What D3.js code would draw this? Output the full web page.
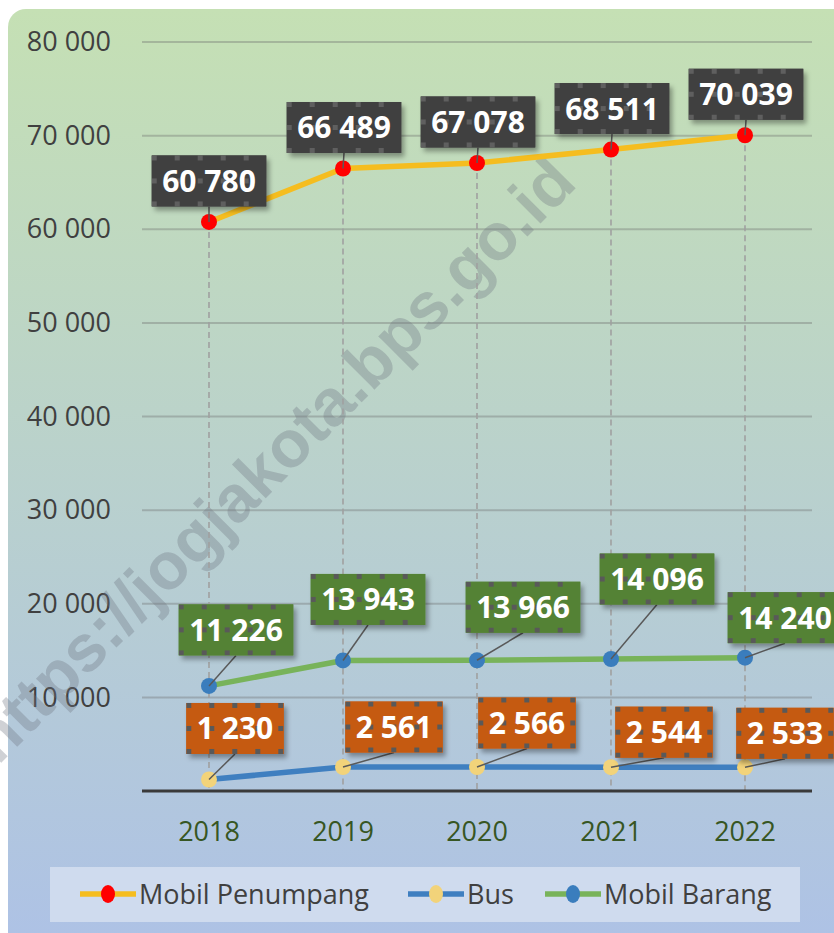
<!DOCTYPE html>
<html>
<head>
<meta charset="utf-8">
<script src="https://cdn.jsdelivr.net/npm/d3@7"></script>
<style>
  body { margin: 0; background: #fff; }
  svg { display: block; font-family: "Open Sans", sans-serif; }
</style>
</head>
<body>
<svg width="834" height="933"></svg>
<script>
// data
var years = ["2018", "2019", "2020", "2021", "2022"];
var mobilPenumpang = [60780, 66489, 67078, 68511, 70039];
var bus = [1230, 2561, 2566, 2544, 2533];
var mobilBarang = [11226, 13943, 13966, 14096, 14240];
var yTicks = [10000, 20000, 30000, 40000, 50000, 60000, 70000, 80000];
var seriesNames = ["Mobil Penumpang", "Bus", "Mobil Barang"];

// label box offsets from the point (box centre), pixels
var offPenumpang = [[0, -41], [1, -41], [1, -41], [1, -41], [1, -41]];
var offBus = [[26, -51], [51, -40], [50, -44], [53, -35], [40, -34]];
var offBarang = [[27, -56], [25, -61], [46, -53], [46, -80], [40, -40]];

var series = [
  { name: seriesNames[0], values: mobilPenumpang, line: "#f5bd1f", marker: "#ff0000", box: "#404040", dots: "#5f5f5f", off: offPenumpang },
  { name: seriesNames[1], values: bus, line: "#3f7fc0", marker: "#f2d37a", box: "#c55a11", dots: "#595959", off: offBus },
  { name: seriesNames[2], values: mobilBarang, line: "#78b35a", marker: "#3a7dbd", box: "#548235", dots: "#595959", off: offBarang }
];

var svg = d3.select("svg");
var defs = svg.append("defs");

//background gradient
var grad = defs.append("linearGradient").attr("id", "bg")
    .attr("x1", 0).attr("y1", 0).attr("x2", 0).attr("y2", 1);
grad.append("stop").attr("offset", "0%").attr("stop-color", "#c5e0b4");
grad.append("stop").attr("offset", "100%").attr("stop-color", "#adc1e7");

//shadow
var f = defs.append("filter").attr("id", "shadow")
    .attr("x", "-20%").attr("y", "-20%").attr("width", "150%").attr("height", "160%");
f.append("feDropShadow").attr("dx", 3).attr("dy", 4).attr("stdDeviation", 2.5)
    .attr("flood-color", "#000").attr("flood-opacity", 0.35);

svg.append("rect")
    .attr("x", 8).attr("y", 9)
    .attr("width", 860).attr("height", 960)
    .attr("rx", 18)
    .attr("fill", "url(#bg)");

//scales
var x = d3.scaleBand().domain(years).range([142, 812]);
var cx = function(d) { return x(d) + x.bandwidth() / 2; };
var y = d3.scaleLinear().domain([0, 80000]).range([791, 42]);

//gridlines
svg.append("g").selectAll("line")
    .data(yTicks).enter().append("line")
    .attr("x1", 142).attr("x2", 812)
    .attr("y1", function(d) { return y(d); })
    .attr("y2", function(d) { return y(d); })
    .attr("stroke", "#6b6b6b").attr("stroke-opacity", 0.35)
    .attr("stroke-width", 2);

//y axis labels
var yAxis = svg.append("g")
    .attr("transform", "translate(142,0)")
    .call(d3.axisLeft(y).tickValues(yTicks).tickSize(0).tickPadding(31)
        .tickFormat(function(d) { return d3.format(",")(d).replace(/,/g, " "); }));
yAxis.select(".domain").remove();
yAxis.selectAll("text")
    .attr("font-family", "Open Sans").attr("font-size", 27).attr("fill", "#404040");

//x axis labels
var xAxis = svg.append("g")
    .attr("transform", "translate(0,791)")
    .call(d3.axisBottom(x).tickSize(0).tickPadding(31));
xAxis.select(".domain").remove();
xAxis.selectAll("text")
    .attr("font-family", "Open Sans").attr("font-size", 27).attr("fill", "#375623");

//watermark
svg.append("text")
    .attr("transform", "translate(-2,766) rotate(-45)")
    .attr("font-family", "Liberation Sans").attr("font-weight", "bold")
    .attr("font-size", 66)
    .attr("fill", "#6c7480").attr("fill-opacity", 0.33)
    .text("https://jogjakota.bps.go.id");

//drop lines
svg.append("g").selectAll("line")
    .data(years.map(function(yr, i) { return { yr: yr, v: mobilPenumpang[i] }; }))
    .enter().append("line")
    .attr("x1", function(d) { return cx(d.yr); })
    .attr("x2", function(d) { return cx(d.yr); })
    .attr("y1", function(d) { return y(d.v); })
    .attr("y2", y(0))
    .attr("stroke", "#a0a0a0").attr("stroke-width", 1.6)
    .attr("stroke-dasharray", "6,4");

//x axis line
svg.append("line")
    .attr("x1", 142).attr("x2", 812)
    .attr("y1", y(0)).attr("y2", y(0))
    .attr("stroke", "#3a3a3a").attr("stroke-width", 3);

var line = d3.line()
    .x(function(d) { return cx(d.yr); })
    .y(function(d) { return y(d.v); });

series.forEach(function(s) {
  s.pts = years.map(function(yr, i) { return { yr: yr, v: s.values[i], off: s.off[i] }; });
  svg.append("path")
      .datum(s.pts)
      .attr("d", line)
      .attr("fill", "none")
      .attr("stroke", s.line)
      .attr("stroke-width", 5.5);
});

series.forEach(function(s) {
  svg.append("g").selectAll("circle")
      .data(s.pts).enter().append("circle")
      .attr("cx", function(d) { return cx(d.yr); })
      .attr("cy", function(d) { return y(d.v); })
      .attr("r", 8)
      .attr("fill", s.marker);
});

//labels
series.forEach(function(s, si) {
  s.pts.forEach(function(d, i) {
    var px = cx(d.yr), py = y(d.v);
    var bx = px + d.off[0], by = py + d.off[1];
    var g = svg.append("g");
    var t = g.append("text")
        .attr("font-family", "Open Sans").attr("font-weight", "bold")
        .attr("font-size", 30).attr("fill", "#fff")
        .attr("text-anchor", "middle")
        .attr("x", bx).attr("y", by + 11)
        .text(d3.format(",")(d.v).replace(/,/g, " "));
    var w = t.node().getComputedTextLength() + 21, h = 51;
    var x0 = bx - w / 2, y0 = by - h / 2;

    //leader
    g.insert("line", "text")
        .attr("x1", px).attr("y1", py)
        .attr("x2", bx).attr("y2", y0 + h)
        .attr("stroke", "#595959").attr("stroke-width", 1.5);

    var pid = "pat" + si + "_" + i;
    var pat = defs.append("pattern").attr("id", pid)
        .attr("patternUnits", "userSpaceOnUse")
        .attr("x", x0).attr("y", y0)
        .attr("width", 23).attr("height", 23);
    pat.append("rect").attr("width", 23).attr("height", 23).attr("fill", s.box);
    pat.append("rect").attr("width", 5).attr("height", 5).attr("fill", s.dots);

    g.insert("rect", "text")
        .attr("x", x0).attr("y", y0)
        .attr("width", w).attr("height", h)
        .attr("fill", s.box)
        .attr("filter", "url(#shadow)");
    g.insert("rect", "text")
        .attr("x", x0).attr("y", y0)
        .attr("width", w).attr("height", h)
        .attr("fill", "url(#" + pid + ")");
  });
});

//legend
svg.append("rect")
    .attr("x", 50).attr("y", 867)
    .attr("width", 750).attr("height", 55)
    .attr("fill", "#cfdbee");

var legendX = [80, 408, 545];
series.forEach(function(s, i) {
  var g = svg.append("g").attr("transform", "translate(" + legendX[i] + ",894)");
  g.append("line").attr("x1", 0).attr("x2", 56)
      .attr("stroke", s.line).attr("stroke-width", 5.5);
  g.append("ellipse").attr("cx", 28).attr("rx", 7).attr("ry", 9)
      .attr("fill", s.marker);
  g.append("text").attr("x", 59).attr("y", 10)
      .attr("font-family", "Open Sans").attr("font-size", 27).attr("fill", "#404040")
      .text(s.name);
});
</script>
</body>
</html>
